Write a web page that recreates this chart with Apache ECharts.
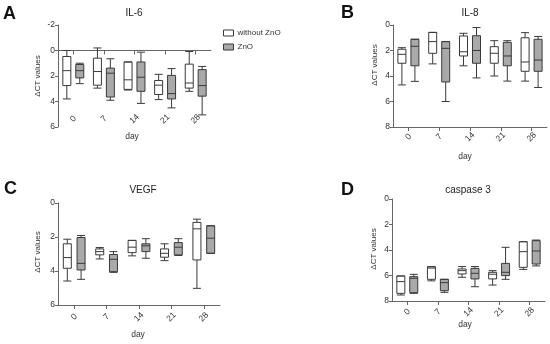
<!DOCTYPE html>
<html>
<head>
<meta charset="utf-8">
<script src="https://cdn.jsdelivr.net/npm/echarts@6/dist/echarts.min.js"></script>
<style>
html,body{margin:0;padding:0;background:#fff;}
#chart{width:550px;height:344px;}
</style>
</head>
<body>
<div id="chart"></div>
<script>
// Categories
const days = ['0', '7', '14', '21', '28'];
const seriesNames = ['without ZnO', 'ZnO'];
const panelTitles = ['IL-6', 'IL-8', 'VEGF', 'caspase 3'];
const panelLetters = ['A', 'B', 'C', 'D'];

// Y axis ranges per panel [min, max]
const yRangeA = [-2, 6];
const yRangeB = [0, 8];
const yRangeC = [0, 6];
const yRangeD = [0, 8];

// Box data: [min, Q1, median, Q3, max]
const il6Without = [
  [0.0, 0.47, 1.58, 2.75, 3.8],
  [-0.2, 0.6, 1.65, 2.72, 2.95],
  [0.9, 0.9, 2.3, 3.05, 3.1],
  [1.87, 2.35, 2.72, 3.45, 3.85],
  [0.08, 1.07, 2.55, 2.95, 3.2]
];
const il6ZnO = [
  [1.0, 1.1, 1.58, 2.15, 2.6],
  [0.65, 1.38, 1.78, 3.65, 3.9],
  [0.13, 0.9, 2.1, 3.2, 4.15],
  [1.42, 1.95, 3.38, 3.8, 4.5],
  [1.25, 1.5, 2.75, 3.58, 5.05]
];
const il8Without = [
  [1.78, 1.9, 2.3, 3.0, 4.7],
  [0.58, 0.58, 1.3, 2.22, 3.05],
  [0.65, 0.86, 2.1, 2.43, 3.2],
  [1.23, 1.7, 2.22, 3.0, 4.0],
  [0.6, 1.0, 2.9, 3.63, 4.4]
];
const il8ZnO = [
  [1.12, 1.12, 1.67, 3.2, 4.42],
  [1.3, 1.3, 1.83, 4.47, 6.0],
  [0.2, 0.84, 2.0, 3.0, 4.15],
  [1.23, 1.36, 2.43, 3.2, 4.4],
  [0.9, 1.12, 2.75, 3.63, 4.9]
];
const vegfWithout = [
  [2.13, 2.4, 3.21, 3.84, 4.59],
  [2.62, 2.7, 2.86, 3.05, 3.29],
  [2.2, 2.2, 2.6, 2.92, 3.11],
  [2.4, 2.7, 2.96, 3.19, 3.39],
  [0.95, 1.14, 1.52, 3.35, 5.02]
];
const vegfZnO = [
  [1.91, 2.03, 3.55, 3.94, 4.49],
  [2.86, 3.03, 3.31, 4.04, 4.08],
  [2.1, 2.4, 2.52, 2.86, 3.25],
  [2.1, 2.33, 2.6, 3.05, 3.09],
  [1.34, 1.34, 2.07, 2.96, 2.96]
];
const casp3Without = [
  [6.04, 6.04, 6.48, 7.4, 7.53],
  [5.3, 5.32, 5.42, 6.3, 6.42],
  [5.3, 5.49, 5.62, 5.88, 6.14],
  [5.62, 5.75, 5.9, 6.27, 6.75],
  [3.35, 3.35, 4.13, 5.36, 5.52]
];
const casp3ZnO = [
  [5.91, 6.09, 6.22, 7.35, 7.4],
  [6.3, 6.3, 6.56, 7.19, 7.32],
  [5.3, 5.44, 5.83, 6.27, 6.88],
  [3.79, 5.05, 5.75, 6.01, 6.3],
  [3.22, 3.27, 4.08, 5.1, 5.25]
];

const panelData = [
  [il6Without, il6ZnO],
  [il8Without, il8ZnO],
  [vegfWithout, vegfZnO],
  [casp3Without, casp3ZnO]
];
const yRanges = [yRangeA, yRangeB, yRangeC, yRangeD];

// Layout (pixels)
const grids = [
  {left: 58, top: 25, width: 153, height: 102},
  {left: 393, top: 25, width: 154, height: 102},
  {left: 58, top: 203, width: 162, height: 102},
  {left: 392, top: 199, width: 153, height: 102}
];
const labelMargins = [-8, 10, 12, 11];
const titlePos = [[129, 8], [465, 8], [138, 185], [463, 185]];
const letterPos = [[3, 5], [341, 4], [4, 180], [341, 181]];
const dayPos = [[132, 137], [465, 157], [138, 335], [465, 325]];
const ylabPos = [[38, 76], [375, 65], [38, 252], [374, 249]];

const FONT = 'Liberation Sans, Arial, sans-serif';
const AXIS_COLOR = '#666';
const TEXT_COLOR = '#333';
const BORDER = '#3a3a3a';
const fills = ['#ffffff', '#a9a9a9'];

const xAxes = [], yAxes = [], series = [], titles = [], graphics = [];

grids.forEach((g, i) => {
  const zeroLine = (i === 0);
  xAxes.push({
    type: 'category', gridIndex: i, data: days, position: 'bottom',
    axisLine: {show: !zeroLine, onZero: false, lineStyle: {color: AXIS_COLOR, width: 1}},
    axisTick: {show: !zeroLine, alignWithLabel: true, length: 4, lineStyle: {color: AXIS_COLOR}},
    axisLabel: {
      rotate: 45, margin: labelMargins[i], align: 'center', verticalAlign: 'middle',
      fontSize: 8.5, color: TEXT_COLOR, fontFamily: FONT
    },
    splitLine: {show: false}
  });
  yAxes.push({
    type: 'value', gridIndex: i, inverse: true,
    min: yRanges[i][0], max: yRanges[i][1], interval: 2,
    axisLine: {show: true, lineStyle: {color: AXIS_COLOR, width: 1}},
    axisTick: {show: true, length: 3, lineStyle: {color: AXIS_COLOR}},
    axisLabel: {fontSize: 8.5, color: TEXT_COLOR, fontFamily: FONT, margin: 3},
    splitLine: {show: false}
  });
  panelData[i].forEach((d, k) => {
    series.push({
      type: 'boxplot', name: seriesNames[k],
      xAxisIndex: i, yAxisIndex: i,
      data: d,
      boxWidth: [8, 8],
      itemStyle: {color: fills[k], borderColor: BORDER, borderWidth: 1},
      emphasis: {disabled: true},
      silent: true
    });
  });
  titles.push({
    text: panelTitles[i], left: titlePos[i][0], top: titlePos[i][1],
    textAlign: 'center', textVerticalAlign: 'middle',
    textStyle: {fontSize: 10, fontWeight: 'normal', color: '#222', fontFamily: FONT}
  });
  titles.push({
    text: panelLetters[i], left: letterPos[i][0], top: letterPos[i][1],
    padding: 0,
    textStyle: {fontSize: 18, fontWeight: 'bold', color: '#111', fontFamily: FONT}
  });
  graphics.push({
    type: 'text', x: dayPos[i][0], y: dayPos[i][1],
    style: {text: 'day', fontSize: 8.5, fill: TEXT_COLOR, fontFamily: FONT, align: 'center', verticalAlign: 'middle'}
  });
  graphics.push({
    type: 'text', x: ylabPos[i][0], y: ylabPos[i][1], rotation: Math.PI / 2,
    style: {text: 'ΔCT values', fontSize: 8, fill: TEXT_COLOR, fontFamily: FONT, align: 'center', verticalAlign: 'middle'}
  });
});

// Zero line axis for panel A
xAxes.push({
  type: 'category', gridIndex: 0, data: days, position: 'bottom',
  axisLine: {show: true, onZero: true, lineStyle: {color: AXIS_COLOR, width: 1}},
  axisTick: {show: true, alignWithLabel: true, length: 4, lineStyle: {color: AXIS_COLOR}},
  axisLabel: {show: false},
  splitLine: {show: false}
});

const chart = echarts.init(document.getElementById('chart'), null, {renderer: 'canvas'});
chart.setOption({
  animation: false,
  backgroundColor: '#fff',
  title: titles,
  grid: grids.map(g => Object.assign({containLabel: false}, g)),
  xAxis: xAxes,
  yAxis: yAxes,
  series: series,
  legend: {
    data: seriesNames.map((n, k) => ({
      name: n, icon: 'rect',
      itemStyle: {color: fills[k], borderColor: BORDER, borderWidth: 1}
    })),
    orient: 'vertical', left: 223, top: 29, padding: 0,
    itemWidth: 10, itemHeight: 6, itemGap: 6,
    textStyle: {fontSize: 8, color: TEXT_COLOR, fontFamily: FONT, padding: [0, 0, 0, -1]},
    selectedMode: false
  },
  graphic: graphics
});
</script>
</body>
</html>
